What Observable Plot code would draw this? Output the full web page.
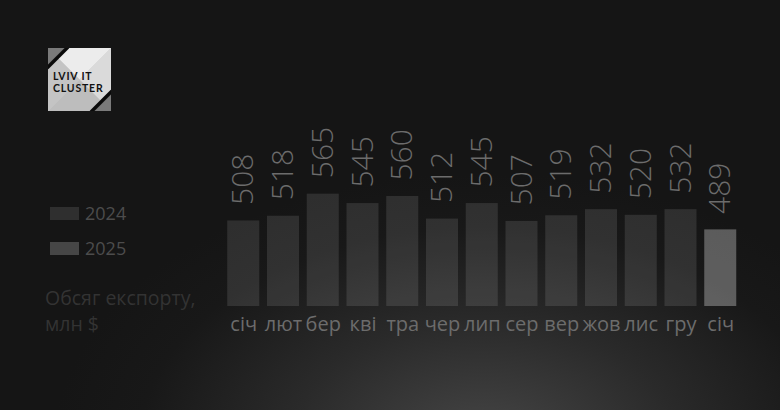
<!DOCTYPE html>
<html>
<head>
<meta charset="utf-8">
<script src="https://cdn.jsdelivr.net/npm/d3@7"></script>
<script src="https://cdn.jsdelivr.net/npm/@observablehq/plot@0.6"></script>
<style>
  html, body { margin: 0; padding: 0; }
  body { width: 780px; height: 410px; overflow: hidden;
    background: #151515;
    font-family: "Open Sans", "DejaVu Sans", sans-serif; }
  #wrap { position: relative; width: 780px; height: 410px;
    background: radial-gradient(ellipse 430px 270px at 62% 108%, #464646 0%, #2a2a2a 45%, #181818 80%, #151515 100%); }
  #chart { position: absolute; left: 0; top: 0; }
  #logo { position: absolute; left: 48px; top: 48px; }
  .leg { position: absolute; left: 50px; display: flex; align-items: center; font-size: 18px; line-height: 24px; color: #4c4c4c; }
  .leg .sw { width: 29px; height: 13px; margin-right: 6px; }
  .ylab { position: absolute; left: 45px; font-size: 19.5px; line-height: 24px; height: 24px; color: #333333; white-space: nowrap; }
</style>
</head>
<body>
<div id="wrap">
  <svg id="logo" width="63" height="63" viewBox="0 0 63 63">
    <rect x="0" y="0" width="63" height="63" fill="#cfcfcf"/>
    <polygon points="0,0 63,0 31.5,31.5" fill="#ececec"/>
    <polygon points="63,0 63,63 31.5,31.5" fill="#dadada"/>
    <polygon points="0,0 0,63 31.5,31.5" fill="#c4c4c4"/>
    <polygon points="0,63 63,63 31.5,31.5" fill="#bdbdbd"/>
    <polygon points="0,0 17,0 0,17" fill="#7a7a7a"/>
    <polygon points="63,63 46,63 63,46" fill="#7a7a7a"/>
    <line x1="20" y1="-1" x2="-1" y2="20" stroke="#0a0a0a" stroke-width="3.5"/>
    <line x1="43" y1="64" x2="64" y2="43" stroke="#0a0a0a" stroke-width="3.5"/>
    <text x="5" y="32" font-family="Lato, 'DejaVu Sans', sans-serif" font-weight="700" font-size="10.5" fill="#111" letter-spacing="0.8">LVIV IT</text>
    <text x="5" y="44" font-family="Lato, 'DejaVu Sans', sans-serif" font-weight="700" font-size="10.5" fill="#111" letter-spacing="0.8">CLUSTER</text>
  </svg>
  <div id="legend"></div>
  <div id="ylabs"></div>
  <div id="chart"></div>
</div>
<script>
// ---- data ----
const months = ["січ","лют","бер","кві","тра","чер","лип","сер","вер","жов","лис","гру","січ"];
const exportValues = [508, 518, 565, 545, 560, 512, 545, 507, 519, 532, 520, 532, 489];
const years = [2024, 2024, 2024, 2024, 2024, 2024, 2024, 2024, 2024, 2024, 2024, 2024, 2025];
const legendYears = ["2024", "2025"];
const yLabelLines = ["Обсяг експорту,", "млн $"];

const data = exportValues.map((v, i) => ({i, month: months[i], value: v, year: years[i]}));

// legend
const legendColors = {"2024": "#2f2f2f", "2025": "#464646"};
const legendTops = [201, 236];
const legend = document.getElementById("legend");
legendYears.forEach((y, k) => {
  const d = document.createElement("div");
  d.className = "leg";
  d.style.top = legendTops[k] + "px";
  d.innerHTML = `<div class="sw" style="background:${legendColors[y]}"></div><span>${y}</span>`;
  legend.appendChild(d);
});
const ylabs = document.getElementById("ylabs");
yLabelLines.forEach((t, k) => {
  const d = document.createElement("div");
  d.className = "ylab";
  d.style.top = (286 + k * 26) + "px";
  d.textContent = t;
  ylabs.appendChild(d);
});

const chart = Plot.plot({
  width: 780,
  height: 410,
  marginLeft: 219.5,
  marginRight: 36,
  marginTop: 153.7,
  marginBottom: 104,
  style: {background: "transparent", fontFamily: "'Open Sans', 'DejaVu Sans', sans-serif", overflow: "visible"},
  x: {domain: d3.range(months.length), padding: 0.195, round: false, axis: null, label: null},
  y: {domain: [326, 650], clamp: true, axis: null},
  marks: [
    Plot.barY(data, {
      x: "i", y: "value",
      fill: "#ffffff",
      fillOpacity: d => d.year === 2025 ? 0.3 : 0.11
    }),
    Plot.text(data, {
      x: "i", y: "value", text: d => String(d.value),
      rotate: -90, textAnchor: "start", dy: -16,
      fontSize: 30, fill: "#6c6c6c", fontWeight: 300
    }),
    Plot.axisX({
      domain: d3.range(months.length),
      tickSize: 0, tickPadding: 10, fontSize: 20, label: null,
      tickFormat: i => months[i], color: "#6c6c6c"
    })
  ]
});
document.getElementById("chart").appendChild(chart);
</script>
</body>
</html>
